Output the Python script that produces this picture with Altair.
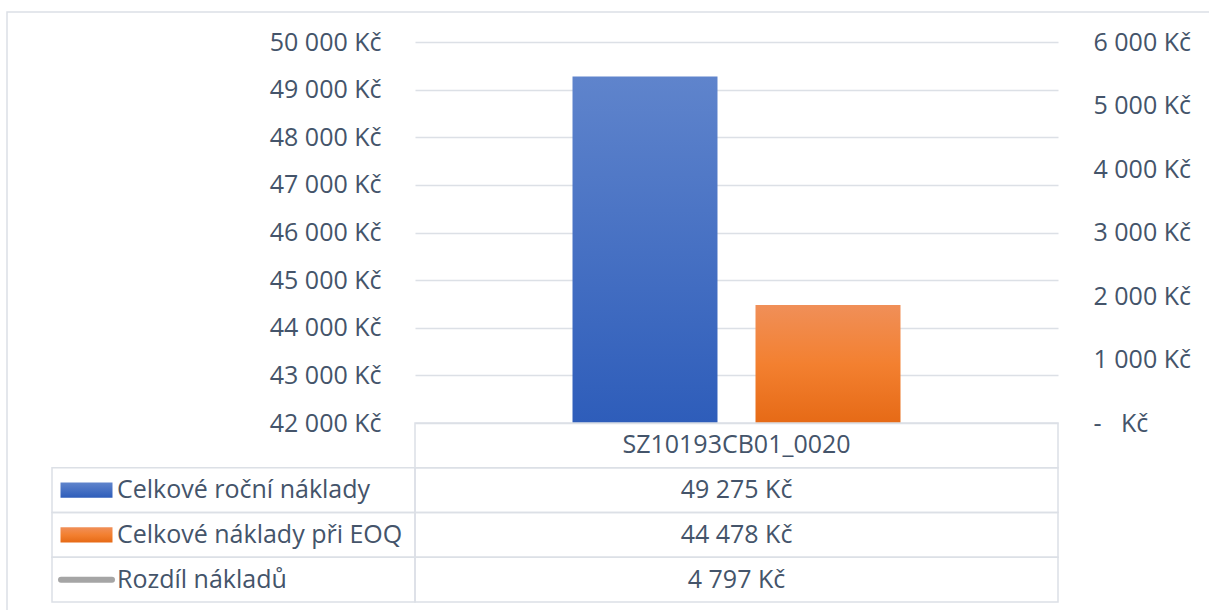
import altair as alt
import pandas as pd

# --- data -------------------------------------------------------------
category = "SZ10193CB01_0020"
series = ["Celkové roční náklady", "Celkové náklady při EOQ", "Rozdíl nákladů"]
values = [49275, 44478, 4797]
axis_side = ["primary", "primary", "secondary"]

left_ticks = [42000, 43000, 44000, 45000, 46000, 47000, 48000, 49000, 50000]
right_ticks = [0, 1000, 2000, 3000, 4000, 5000, 6000]


def czk(v):
    return f"{v:,}".replace(",", " ") + " Kč"


df = pd.DataFrame({
    "category": category,
    "series": series,
    "value": values,
    "axis": axis_side,
    "label": [czk(v) for v in values],
    "col": "label",
})
header = pd.DataFrame({"row": [category], "category": [category], "text": [category]})
label_cells = pd.DataFrame({"row": series, "col": "label"})
value_cells = pd.DataFrame({"row": [category] + series, "category": category})

# --- style ------------------------------------------------------------
W, H = 643, 381
ROW_H = 44.75
LABEL_COL = 363          # width of the series-name column of the table
FONT = "Open Sans"
TEXT = "#44546A"
LINE = "#DCE0E6"
FS = 25

BLUE = {"gradient": "linear", "x1": 0, "y1": 0, "x2": 0, "y2": 1,
        "stops": [{"offset": 0, "color": "#5F84CC"}, {"offset": 1, "color": "#2E5DBA"}]}
ORANGE = {"gradient": "linear", "x1": 0, "y1": 0, "x2": 0, "y2": 1,
          "stops": [{"offset": 0, "color": "#F08F58"}, {"offset": 0.5, "color": "#F38030"},
                    {"offset": 1, "color": "#E66A16"}]}
GRAY = "#A5A5A5"

left_label = "replace(format(datum.value, ','), ',', ' ') + ' Kč'"
right_label = ("datum.value == 0 ? '-\u00a0\u00a0\u00a0Kč' : "
               "replace(format(datum.value, ','), ',', ' ') + ' Kč'")

# table rows (header row + one per series) laid out beneath the plot area
table_y = alt.Scale(domain=[category] + series, range=[H, H + 4 * ROW_H],
                    paddingInner=0, paddingOuter=0)
value_x = alt.Scale(domain=[category], range=[0, W], paddingInner=0, paddingOuter=0)
label_x = alt.Scale(domain=["label"], range=[-LABEL_COL, 0], paddingInner=0, paddingOuter=0)
# offsets from the centre of the name column
KEY_OFFSET = -147
NAME_OFFSET = -116.5

# --- bars on the primary axis ----------------------------------------
bars = alt.Chart(df).transform_filter(alt.datum.axis == "primary").mark_bar().encode(
    x=alt.X("series:N", sort=series[:2],
            scale=alt.Scale(domain=series[:2], paddingInner=0.2077, paddingOuter=0.8607),
            axis=None),
    y=alt.Y("value:Q",
            scale=alt.Scale(domain=[42000, 50000], nice=False, zero=False),
            axis=alt.Axis(orient="left", values=left_ticks, labelExpr=left_label,
                          grid=True, gridColor=LINE, gridWidth=1.5, ticks=False,
                          domain=False, labelPadding=34, title=None)),
    y2=alt.datum(42000),
    color=alt.condition(alt.datum.series == series[0], alt.value(BLUE), alt.value(ORANGE)),
)

# --- difference series on the secondary axis (single category) --------
diff_line = alt.Chart(df).transform_filter(alt.datum.axis == "secondary").mark_line(
    color=GRAY, strokeWidth=5
).encode(
    x=alt.X("category:N", scale=value_x, axis=None),
    y=alt.Y("value:Q", scale=alt.Scale(domain=[0, 6000], nice=False),
            axis=alt.Axis(orient="right", values=right_ticks, labelExpr=right_label,
                          grid=False, ticks=False, domain=False, labelPadding=35,
                          title=None)),
)

# --- data table -------------------------------------------------------
cell_style = dict(fillOpacity=0, stroke=LINE, strokeWidth=1.5)

value_grid = alt.Chart(value_cells).mark_rect(**cell_style).encode(
    x=alt.X("category:N", scale=value_x, axis=None),
    y=alt.Y("row:N", scale=table_y, axis=None),
)
label_grid = alt.Chart(label_cells).mark_rect(**cell_style).encode(
    x=alt.X("col:N", scale=label_x, axis=None),
    y=alt.Y("row:N", scale=table_y, axis=None),
)

header_text = alt.Chart(header).mark_text(font=FONT, fontSize=FS, color=TEXT).encode(
    x=alt.X("category:N", scale=value_x, axis=None),
    y=alt.Y("row:N", scale=table_y, axis=None),
    text="text:N",
)
value_text = alt.Chart(df).mark_text(font=FONT, fontSize=FS, color=TEXT).encode(
    x=alt.X("category:N", scale=value_x, axis=None),
    y=alt.Y("series:N", scale=table_y, axis=None),
    text="label:N",
)
name_text = alt.Chart(df).mark_text(font=FONT, fontSize=FS, color=TEXT,
                                    align="left", xOffset=NAME_OFFSET).encode(
    x=alt.X("col:N", scale=label_x, axis=None),
    y=alt.Y("series:N", scale=table_y, axis=None),
    text="series:N",
)

# legend keys inside the table
key_box = alt.Chart(df).transform_filter(alt.datum.axis == "primary").mark_point(
    shape="M-1,-0.29H1V0.29H-1Z", size=2704, filled=True, opacity=1,
    strokeWidth=0, xOffset=KEY_OFFSET
).encode(
    x=alt.X("col:N", scale=label_x, axis=None),
    y=alt.Y("series:N", scale=table_y, axis=None),
    fill=alt.condition(alt.datum.series == series[0], alt.value(BLUE), alt.value(ORANGE)),
)
key_line = alt.Chart(df).transform_filter(alt.datum.axis == "secondary").mark_point(
    shape="M-1,0H1", size=2601, filled=False, opacity=1, stroke=GRAY,
    strokeWidth=6, strokeCap="round", xOffset=KEY_OFFSET
).encode(
    x=alt.X("col:N", scale=label_x, axis=None),
    y=alt.Y("series:N", scale=table_y, axis=None),
)

# chart area border
frame = alt.Chart(pd.DataFrame({"f": [0]})).mark_rect(
    fillOpacity=0, stroke=LINE, strokeWidth=1.5
).encode(
    x=alt.value(-408), x2=alt.value(W + 300),
    y=alt.value(-30), y2=alt.value(H + 300),
)

chart = alt.layer(
    frame, bars, diff_line, value_grid, label_grid,
    header_text, value_text, name_text, key_box, key_line,
).resolve_scale(x="independent", y="independent").properties(
    width=W, height=H,
    autosize=alt.AutoSizeParams(type="none"),
    padding={"left": 415, "top": 42, "right": 1209 - 415 - W, "bottom": 610 - 42 - H},
).configure_view(stroke=None).configure_axis(
    labelFont=FONT, labelFontSize=FS, labelColor=TEXT,
)

chart.save("out.html", embed_options={"renderer": "svg", "actions": False})
